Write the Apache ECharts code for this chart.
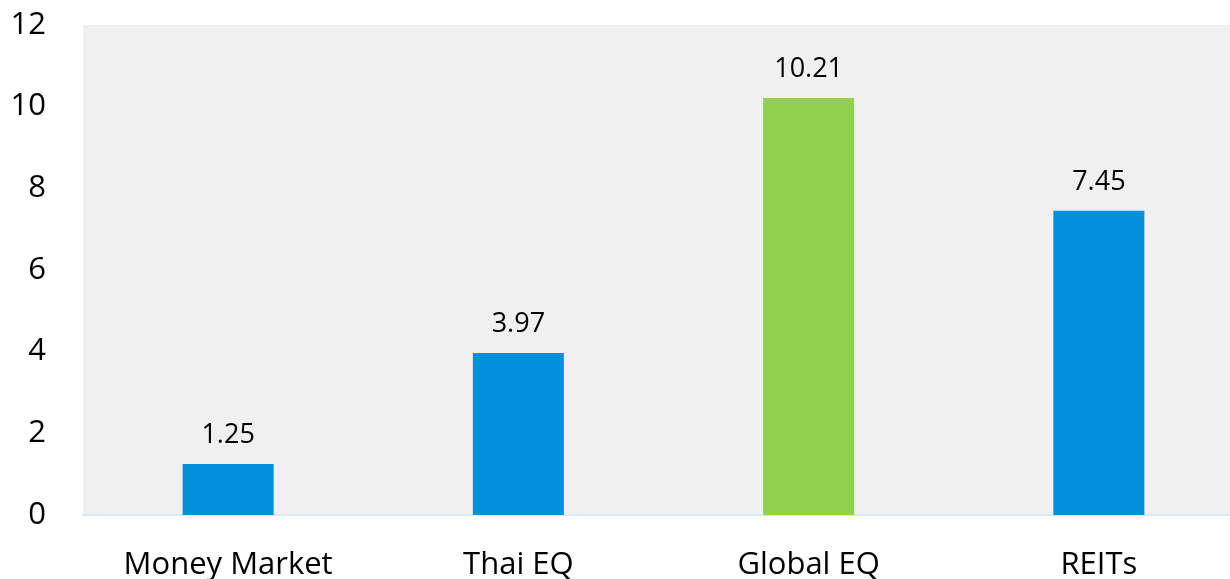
<!DOCTYPE html>
<html><head><meta charset="utf-8">
<script src="https://cdn.jsdelivr.net/npm/echarts@6/dist/echarts.min.js"></script>
<style>html,body{margin:0;padding:0;background:#fff}#c{width:1230px;height:579px}</style>
</head><body><div id="c"></div>
<script>
const categories = ["Money Market", "Thai EQ", "Global EQ", "REITs"];
const values = [1.25, 3.97, 10.21, 7.45];
const barColors = ["#0091DA", "#0091DA", "#92D050", "#0091DA"];
const yTicks = [0, 2, 4, 6, 8, 10, 12];

const chart = echarts.init(document.getElementById('c'));
chart.setOption({
  animation: false,
  grid: {left: 83, top: 25, width: 1161, height: 490, outerBoundsMode: 'none', containLabel: false,
    show: true, backgroundColor: '#F0F0F0', borderWidth: 0},
  xAxis: {
    type: 'category', data: categories,
    axisLine: {lineStyle: {color: '#D4ECFA', width: 2}},
    axisTick: {show: false},
    axisLabel: {fontFamily: 'Open Sans', fontSize: 31, color: '#000', margin: 35}
  },
  yAxis: {
    type: 'value', min: yTicks[0], max: yTicks[yTicks.length - 1], interval: 2,
    splitLine: {show: false},
    axisLine: {show: false}, axisTick: {show: false},
    axisLabel: {fontFamily: 'Open Sans', fontSize: 31, color: '#000', margin: 37}
  },
  series: [{
    type: 'bar', barWidth: 91,
    data: values.map((v, i) => ({value: v, itemStyle: {color: barColors[i]}})),
    label: {show: true, position: 'top', distance: 15, fontFamily: 'Open Sans', fontSize: 27, color: '#000',
      formatter: p => p.value.toFixed(2)}
  }]
});
</script></body></html>
